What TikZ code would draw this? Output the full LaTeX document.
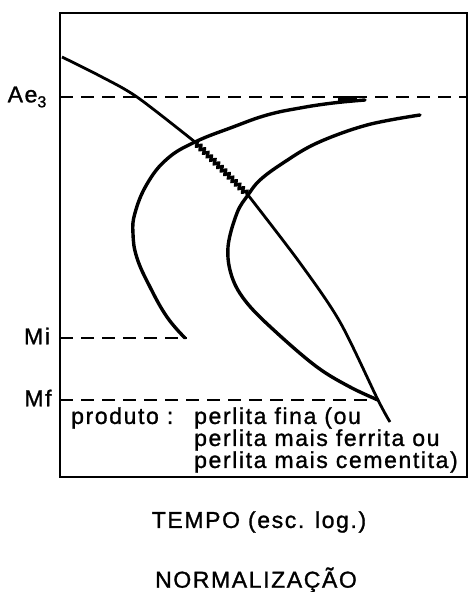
\documentclass[tikz,border=0pt]{standalone}
\usepackage{fontspec}
\setmainfont{Liberation Sans}[LetterSpace=7, FakeBold=1.2]
\usetikzlibrary{decorations.pathmorphing}

\tikzset{
  curve/.style={line width=3.4pt, line cap=round},
  cooling/.style={line width=2.8pt},
  level/.style={line width=1.9pt, dash pattern=on 13pt off 8pt},
  label/.style={inner sep=0pt}
}

\begin{document}
\begin{tikzpicture}[x=1pt, y=-1pt, font=\fontsize{23}{26}\selectfont]
    \useasboundingbox (0,0) rectangle (469,592);

    % Frame
    \draw[line width=2.2pt] (60,13) rectangle (467,477);

    % Temperature levels
    \draw[level] (60,97) -- (467,97);
    \draw[level] (60,338) -- (187,338);
    \draw[level] (60,400) -- (378,400);
    \node[label] (ae3) at (27,97) {Ae\raisebox{-5pt}{\fontsize{16}{16}\selectfont 3}};
    \node[label] (mi) at (37,336) {Mi};
    \node[label] (mf) at (38,398) {Mf};

    % Start of transformation
    \draw[curve] plot[smooth, tension=0.7] coordinates {(365,100) (333,103) (300,108)
      (267,115) (233,127) (195,142) (167,159) (147,184) (135,213) (133,234)
      (137,258) (150,287) (167,317) (185,338)};
    \draw[line width=6pt] (338,99) -- (357,99);

    % End of transformation
    \draw[curve] plot[smooth, tension=0.6] coordinates {(420,115) (367,125) (317,143)
      (283,163) (260,180) (248,195) (237,213) (228,247) (232,277) (247,303)
      (277,333) (317,367) (350,387) (378,400)};

    % Cooling curve
    \draw[cooling] plot[smooth] coordinates {(62,57) (100,76) (137,97) (195,142)};
    \draw[cooling, decorate, decoration={snake, amplitude=2.2pt, segment length=5pt}]
      (195,142) -- (248,195);
    \draw[cooling] plot[smooth] coordinates {(248,195) (300,263) (340,322) (378,400) (390,422)};

    % Product
    \node[label, anchor=west] (produto) at (71,418) {produto :};
    \node[label, anchor=west] (fina) at (194,418) {perlita fina (ou};
    \node[label, anchor=west] (ferrita) at (194,440) {perlita mais ferrita ou};
    \node[label, anchor=west] (cementita) at (194,462) {perlita mais cementita)};

    % Axis and title
    \node[label] (tempo) at (259,522) {TEMPO (esc. log.)};
    \node[label] (titulo) at (256,580) {NORMALIZAÇÃO};

\end{tikzpicture}
\end{document}
